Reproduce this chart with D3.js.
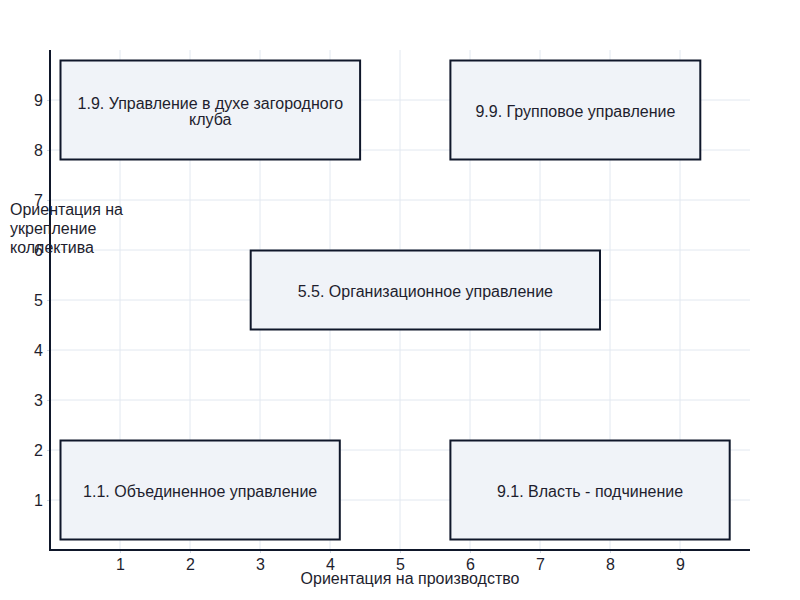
<!DOCTYPE html>
<html><head><meta charset="utf-8">
<script src="https://cdn.jsdelivr.net/npm/d3@7"></script>
<style>body{margin:0;background:#fff}svg{display:block;font-family:"Liberation Sans",Arial,sans-serif}</style>
</head><body><svg id="c" width="800" height="600"></svg>
<script>
const labels = [["1.1. Объединенное управление"],["9.1. Власть - подчинение"],["1.9. Управление в духе загородного","клуба"],["9.9. Групповое управление"],["5.5. Организационное управление"]];
const boxX0 = [0.15, 5.72, 0.15, 5.72, 2.867];
const boxX1 = [4.14, 9.71, 4.43, 9.29, 7.857];
const boxY0 = [0.21, 0.21, 7.81, 7.81, 4.41];
const boxY1 = [2.19, 2.19, 9.79, 9.79, 5.99];
const ticks = [1,2,3,4,5,6,7,8,9];
const xTitle = "Ориентация на производство";
const yTitle = ["Ориентация на","укрепление","коллектива"];

const svg = d3.select("#c");
const x = d3.scaleLinear().domain([0,10]).range([50,750]);
const y = d3.scaleLinear().domain([0,10]).range([550,50]);
const ink = "#0f172a";
const txt = "#1e1e2e";

// grid
svg.append("g").selectAll("line").data(ticks).join("line")
  .attr("x1",d=>x(d)).attr("x2",d=>x(d)).attr("y1",y(0)).attr("y2",y(10))
  .attr("stroke","#e2e8f0").attr("stroke-width",1);
svg.append("g").selectAll("line").data(ticks).join("line")
  .attr("y1",d=>y(d)).attr("y2",d=>y(d)).attr("x1",x(0)).attr("x2",x(10))
  .attr("stroke","#e2e8f0").attr("stroke-width",1);

// boxes
const data = labels.map((l,i)=>({l,x0:boxX0[i],x1:boxX1[i],y0:boxY0[i],y1:boxY1[i]}));
const g = svg.append("g").selectAll("g").data(data).join("g");
g.append("rect")
  .attr("x",d=>x(d.x0)).attr("y",d=>y(d.y1))
  .attr("width",d=>x(d.x1)-x(d.x0)).attr("height",d=>y(d.y0)-y(d.y1))
  .attr("fill","#f0f3f8").attr("stroke",ink).attr("stroke-width",2);
g.each(function(d){
  const cx = (x(d.x0)+x(d.x1))/2, cy=(y(d.y0)+y(d.y1))/2 + 1.5;
  const n = d.l.length, lh = 16;
  const t = d3.select(this).append("text").attr("text-anchor","middle")
    .attr("font-size",16).attr("fill",txt);
  d.l.forEach((s,i)=>{
    t.append("tspan").attr("x",cx).attr("y",cy + (i-(n-1)/2)*lh).attr("dy","0.35em").text(s);
  });
});

// axes
const xa = svg.append("g").attr("transform",`translate(0,${y(0)})`)
  .call(d3.axisBottom(x).tickValues(ticks).tickSize(3).tickPadding(6).tickFormat(d3.format("d")));
const ya = svg.append("g").attr("transform",`translate(${x(0)},0)`)
  .call(d3.axisLeft(y).tickValues(ticks).tickSize(3).tickPadding(4).tickFormat(d3.format("d")));
[xa,ya].forEach(a=>{
  a.select(".domain").remove();
  a.selectAll(".tick line").attr("stroke","#cbd5e1");
  a.selectAll(".tick text").attr("font-size",16).attr("fill",txt).attr("font-family","Liberation Sans, Arial, sans-serif");
});
svg.append("line").attr("x1",x(0)).attr("x2",x(10)).attr("y1",y(0)).attr("y2",y(0)).attr("stroke",ink).attr("stroke-width",2);
svg.append("line").attr("x1",x(0)).attr("x2",x(0)).attr("y1",y(0)+1).attr("y2",y(10)).attr("stroke",ink).attr("stroke-width",2);

svg.append("text").attr("x",410).attr("y",584).attr("text-anchor","middle")
  .attr("font-size",16).attr("fill",txt).text(xTitle);
svg.append("text").attr("font-size",16).attr("fill",txt)
  .selectAll("tspan").data(yTitle).join("tspan")
  .attr("x",10).attr("y",(d,i)=>215+i*19).text(d=>d);
</script></body></html>
